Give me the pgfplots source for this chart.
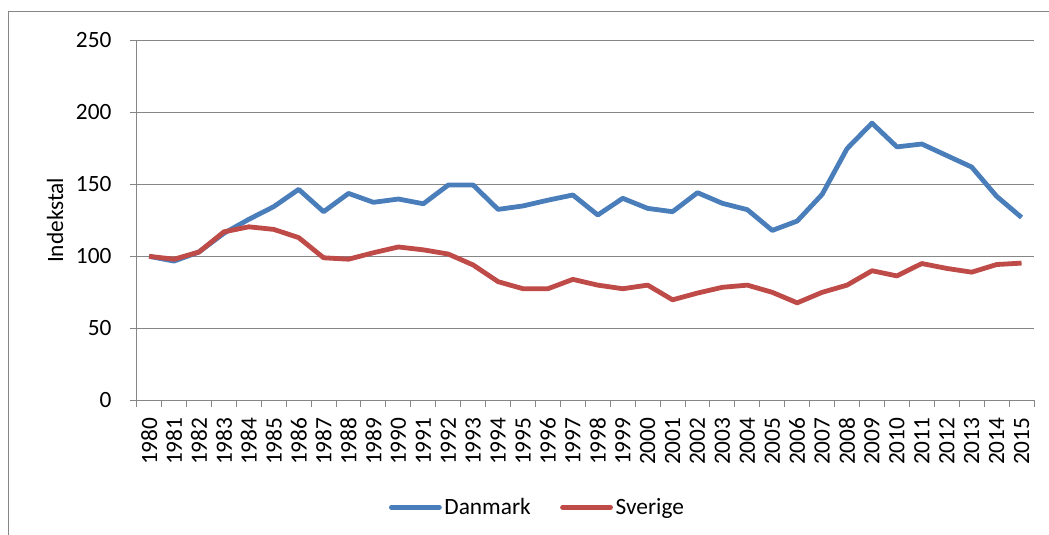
\documentclass[border=0pt]{standalone}
\usepackage{pgfplots}
\pgfplotsset{compat=1.18}
\usepackage{fontspec}
\setmainfont{Carlito}
\definecolor{dkblue}{HTML}{4A7EBB}
\definecolor{dkred}{HTML}{BE4B48}
\definecolor{axgray}{HTML}{868686}
\begin{document}
\begin{tikzpicture}[font=\fontsize{17.5}{21}\selectfont]
\useasboundingbox (0,0) rectangle (786.75pt,401.25pt);
\draw[axgray, line width=0.75pt] (6pt,0pt) -- (6pt,392.25pt) -- (786.75pt,392.25pt);
\begin{axis}[
  at={(102.5pt,101pt)}, anchor=south west,
  scale only axis, width=673pt, height=270pt,
  xmin=1979.5, xmax=2015.5, ymin=0, ymax=250,
  axis lines=left, axis line style={-, draw=axgray, line width=0.75pt},
  tick align=outside, major tick length=5.25pt,
  every tick/.style={axgray, line width=0.75pt},
  ytick={0,50,...,250},
  yticklabel style={inner sep=0pt}, yticklabel shift=13.5pt,
  ymajorgrids, grid style={axgray, line width=0.75pt},
  xtick={1979.5,1980.5,...,2015.5}, xticklabels={},
  extra x ticks={1980,1981,...,2015},
  extra x tick style={major tick length=0pt, grid=none,
     xticklabel style={rotate=90, anchor=east, inner sep=0pt},
     xticklabel shift=12.75pt},
  /pgf/number format/.cd, 1000 sep={}, assume math mode=true, /pgfplots/.cd,
  ylabel={Indekstal},
  ylabel style={at={(axis description cs:-0.091,0.5)}, anchor=center},
  legend style={at={(0.447,-0.297)}, anchor=center, legend columns=2, draw=none,
     /tikz/every even column/.append style={column sep=20pt},
     inner sep=0pt},
  legend image code/.code={\draw[#1, line cap=round] (0pt,0pt) -- (36pt,0pt);},
]
\addplot[dkblue, line width=3.6pt, line join=round] coordinates {
(1980,100) (1981,96.7) (1982,103) (1983,116) (1984,125.7) (1985,134.5)
(1986,146.5) (1987,131) (1988,143.7) (1989,137.5) (1990,139.8) (1991,136.5)
(1992,149.5) (1993,149.5) (1994,132.6) (1995,135) (1996,139) (1997,142.6)
(1998,128.7) (1999,140.3) (2000,133.3) (2001,131) (2002,144.2) (2003,136.8)
(2004,132.4) (2005,118) (2006,124.5) (2007,143) (2008,174.8) (2009,192.5)
(2010,176) (2011,178) (2012,170) (2013,162) (2014,141.7) (2015,127)
};
\addlegendentry{Danmark}
\addplot[dkred, line width=3.6pt, line join=round] coordinates {
(1980,100) (1981,98) (1982,103) (1983,117) (1984,120.5) (1985,118.7)
(1986,113) (1987,99) (1988,98) (1989,102.5) (1990,106.5) (1991,104.5)
(1992,101.6) (1993,94) (1994,82.4) (1995,77.5) (1996,77.5) (1997,84)
(1998,80) (1999,77.5) (2000,80) (2001,69.8) (2002,74.5) (2003,78.5)
(2004,80) (2005,75) (2006,67.7) (2007,75) (2008,80) (2009,90)
(2010,86.4) (2011,95) (2012,91.6) (2013,89) (2014,94.3) (2015,95.3)
};
\addlegendentry{Sverige}
\end{axis}
\end{tikzpicture}
\end{document}
